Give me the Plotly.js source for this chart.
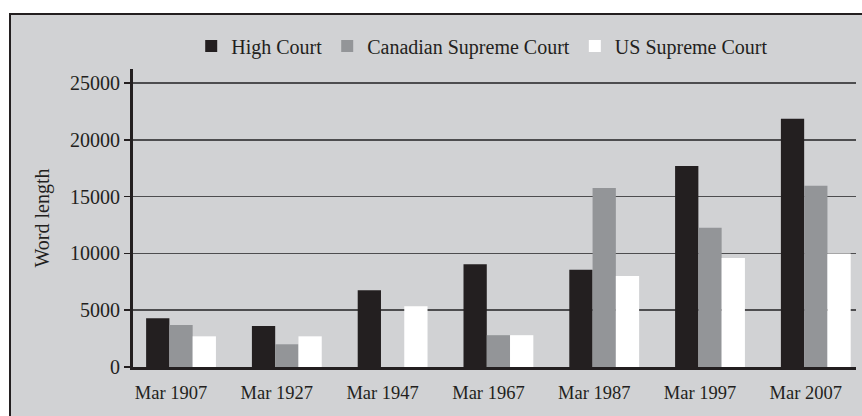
<!DOCTYPE html>
<html>
<head>
<meta charset="utf-8">
<script src="https://cdn.plot.ly/plotly-3.0.1.min.js"></script>
<style>html,body{margin:0;padding:0;background:#fff;}#chart{width:862px;height:416px;}</style>
</head>
<body>
<div id="chart"></div>
<script>
const categories = ["Mar 1907","Mar 1927","Mar 1947","Mar 1967","Mar 1987","Mar 1997","Mar 2007"];
const highCourt = [4300, 3600, 6750, 9050, 8550, 17700, 21850];
const canadianSupreme = [3700, 2000, 0, 2800, 15750, 12250, 15950];
const usSupreme = [2700, 2700, 5350, 2800, 8000, 9600, 10000];
const yTicks = [0, 5000, 10000, 15000, 20000, 25000];

const font = "Liberation Serif, Times New Roman, serif";
const traces = [
  {type:'bar', name:'High Court', x:categories, y:highCourt, marker:{color:'#231f20'}},
  {type:'bar', name:'Canadian Supreme Court', x:categories, y:canadianSupreme, marker:{color:'#939598'}},
  {type:'bar', name:'US Supreme Court', x:categories, y:usSupreme, marker:{color:'#ffffff'}}
];
const W = 723, L = 133;
const layout = {
  width:862, height:416,
  margin:{l:133, r:6, t:69, b:49},
  paper_bgcolor:'#ffffff', plot_bgcolor:'rgba(0,0,0,0)',
  font:{family:font, size:18, color:'#231f20'},
  barmode:'group', bargap:0.34, bargroupgap:0,
  showlegend:true,
  legend:{orientation:'h', x:0.483, xanchor:'center', y:1.077, yanchor:'middle',
          font:{family:font, size:20, color:'#231f20'}, bgcolor:'rgba(0,0,0,0)', traceorder:'normal'},
  xaxis:{type:'category', range:[-0.454, 6.38], showgrid:false, showline:true, linecolor:'#231f20', linewidth:3,
         ticks:'', tickfont:{family:font, size:18.5, color:'#231f20'}, ticklabelshift:-10, ticklabelstandoff:7, zeroline:false},
  yaxis:{range:[0, 26230], tickvals:yTicks, ticktext:yTicks.map(String), showgrid:true, gridcolor:'#4d4d4f', gridwidth:1.5,
         showline:true, linecolor:'#231f20', linewidth:3, ticks:'outside', ticklen:6, tickwidth:1.5, tickcolor:'#231f20',
         tickfont:{family:font, size:20, color:'#231f20'}, zeroline:false,
         title:{text:'Word length', font:{family:font, size:20, color:'#231f20'}, standoff:16}},
  shapes:[{type:'rect', xref:'paper', yref:'paper', layer:'below',
           x0:(10-L)/W, x1:(880-L)/W, y0:-0.3, y1:(367-14)/298,
           fillcolor:'#d1d2d4', line:{color:'#231f20', width:2}}]
};
Plotly.newPlot('chart', traces, layout, {staticPlot:true, displayModeBar:false});
</script>
</body>
</html>
